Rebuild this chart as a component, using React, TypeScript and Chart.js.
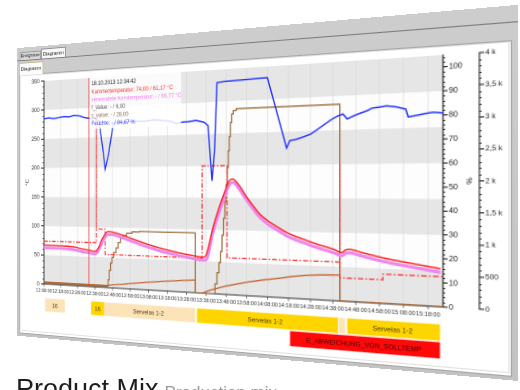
import React, { useEffect, useRef } from "react";
import { Chart, registerables } from "chart.js";

Chart.register(...registerables);

const FONT = "'Liberation Sans', Arial, sans-serif";

// ---- data (time in minutes after 12:08:00) ----
const TIME_MIN = 0;
const TIME_MAX = 196;
const timeTickLabels = [
  "12:08:00", "12:18:00", "12:28:00", "12:38:00", "12:48:00", "12:58:00", "13:08:00",
  "13:18:00", "13:28:00", "13:38:00", "13:48:00", "13:58:00", "14:08:00", "14:18:00",
  "14:28:00", "14:38:00", "14:48:00", "14:58:00", "15:08:00", "15:18:00",
];
const kTickLabels = ["0", "500", "1 k", "1,5 k", "2 k", "2,5 k", "3 k", "3,5 k", "4 k"];
const cursorTime = 26.7;

const feuchte: [number, number][] = [
  [0, 85.5], [3, 85.8], [6, 85.3], [9, 85.7], [12, 86.1], [15, 85.9], [18, 86.6], [21, 86.2],
  [24, 85.2], [27, 84.7], [30, 84.6], [32.5, 83], [34.5, 70], [36, 59], [38, 67], [40.4, 81],
  [43, 82.3], [47, 81.9], [52, 82.5], [58, 82.1], [63, 82.7], [68, 82.2], [72, 81.6], [75, 80.4],
  [77, 81], [81, 81.2], [85, 81.6], [89, 80.6], [91, 79], [92, 66], [93, 53], [94.3, 68],
  [95.5, 99], [100, 99.3], [110, 99.6], [120, 99.9], [129, 67.6], [130.5, 71], [133, 71.3],
  [136, 72.2], [140, 73.6], [144, 76.2], [149, 79.6], [152, 81.2], [154.4, 82], [156.2, 79.8],
  [159, 81], [162, 82.1], [165, 83.1], [167, 84.1], [170, 84.4], [173, 84.8], [177, 84.2],
  [181, 83.1], [182, 79.7], [185, 80.2], [189, 80.9], [192, 81.3], [196, 80.9],
];

const kammerTemp: [number, number][] = [
  [0, 67], [8, 67], [14, 66.5], [19, 65], [23, 62.5], [26.7, 61.2], [30, 59.5], [32, 65],
  [34, 79], [36, 89], [37.5, 93], [40, 92.5], [44, 89.5], [50, 83.5], [58, 75.5], [66, 68.5],
  [74, 63.5], [82, 59], [88.5, 56.5], [90, 60], [93.5, 104], [97, 139], [100, 165], [102, 178],
  [103.5, 179], [105, 175], [107, 167], [110, 152], [113, 139], [116, 127], [120, 116],
  [125, 106], [129, 98.5], [133, 93], [138, 87.5], [143, 82], [147.5, 78], [151, 74.5],
  [153, 71.5], [154, 71], [155.5, 75], [157.5, 76], [162, 72.5], [167, 68.5], [172, 65],
  [180, 60.5], [188, 56.5], [195, 53],
];

const kernTemp: [number, number][] = [
  [0, 62.5], [8, 62.5], [14, 62], [19, 60.5], [23, 58], [26.7, 56.8], [30, 55], [32, 60],
  [34, 73], [36, 84], [37.5, 88], [40, 88], [44, 85], [50, 79], [58, 71], [66, 64], [74, 59],
  [82, 54.5], [88.5, 52], [90, 52.5], [93.5, 96], [97, 131], [100, 158], [102, 172],
  [103.5, 174], [105, 170], [107, 161], [110, 147], [113, 134], [116, 122], [120, 111],
  [125, 101], [129, 93.5], [133, 88], [138, 82.5], [143, 77], [147.5, 73], [151, 69.5],
  [153, 67], [154, 66.5], [155.5, 70], [157.5, 71], [162, 67.5], [167, 63.5], [172, 60],
  [180, 55.5], [188, 51.5], [195, 48],
];

const sollTemp: [number, number][] = [
  [0, 74], [31, 74], [31, 300], [31, 97], [36, 97], [36, 55], [88, 55], [88, 200], [100.5, 200],
  [100.5, 57], [153, 57], [153, 200], [153, 34], [171.5, 34], [171.5, 42], [196, 42],
];

const cValue: [number, number][] = [
  [0, 25], [37, 28], [37.6, 150], [38.3, 330], [39, 470], [39.8, 580], [40.8, 670], [42, 760],
  [43.3, 860], [44.5, 940], [46, 1000], [48, 1045], [51, 1070], [55, 1080], [84.5, 1078],
  [84.5, 0], [93.5, 0], [94.5, 180], [95.5, 380], [96.5, 560], [97.3, 760], [98, 1050],
  [98.7, 1350], [99.4, 1650], [100, 1950], [100.6, 2250], [101.1, 2550], [101.6, 2800],
  [102.2, 3050], [102.8, 3200], [103.6, 3260], [105, 3290], [153, 3290], [153, 0], [196, 0],
];

const fValue: [number, number][] = [
  [0, 42], [37, 45], [45, 78], [55, 125], [65, 165], [75, 200], [84.5, 230], [84.5, 0], [88, 0],
  [92, 60], [100, 150], [110, 235], [118, 290], [126, 335], [131, 370], [138, 405], [145, 423],
  [153, 435], [153, 6], [196, 6],
];

const tooltipLines = [
  "18.10.2013 12:34:42",
  "Kammertemperatur: 74,00 / 61,17 °C",
  "verwendete Kerntemperatur: - / 56,77 °C",
  "f_Value: - / 9,00",
  "c_value: - / 28,00",
  "Feuchte: - / 84,67 %",
];
const tooltipColors = ["#222222", "#ff2a2a", "#ee7aee", "#555555", "#7d6a52", "#2f3cff"];

const rowNames = ["Programm", "Fehler"];
const eventStart = [0.6, 27.9, 35.3, 85.4, 152.5, 156.2, 130.6];
const eventEnd = [12.6, 35.3, 84.4, 152.2, 155.3, 194.8, 194.8];
const eventRow = [0, 0, 0, 0, 0, 0, 1];
const eventText = ["16", "16", "Servelas 1-2", "Servelas 1-2", "", "Servelas 1-2", "E_ABWEICHUNG_VON_SOLLTEMP"];
const eventColor = ["#fde3b8", "#ffd500", "#fde3b8", "#ffd500", "#fde3b8", "#ffd500", "#ff0a0a"];

// ---- layout (flat screen coordinates) ----
const MAIN_LEFT = 4;
const MAIN_TOP = 31;
const MAIN_W = 520;
const MAIN_H = 247;
const EV_TOP = 279;
const EV_H = 32;

const toXY = (arr: [number, number][]) => arr.map(([x, y]) => ({ x, y }));

function homographyMatrix(src: number[][], dst: number[][]): string {
  const A: number[][] = [];
  const b: number[] = [];
  for (let i = 0; i < 4; i++) {
    const [x, y] = src[i];
    const [X, Y] = dst[i];
    A.push([x, y, 1, 0, 0, 0, -x * X, -y * X]);
    b.push(X);
    A.push([0, 0, 0, x, y, 1, -x * Y, -y * Y]);
    b.push(Y);
  }
  const n = 8;
  for (let c = 0; c < n; c++) {
    let p = c;
    for (let r = c + 1; r < n; r++) if (Math.abs(A[r][c]) > Math.abs(A[p][c])) p = r;
    [A[c], A[p]] = [A[p], A[c]];
    [b[c], b[p]] = [b[p], b[c]];
    for (let r = 0; r < n; r++) {
      if (r === c) continue;
      const f = A[r][c] / A[c][c];
      for (let k = c; k < n; k++) A[r][k] -= f * A[c][k];
      b[r] -= f * b[c];
    }
  }
  const h = b.map((v, i) => v / A[i][i]);
  return `matrix3d(${h[0]},${h[3]},0,${h[6]},${h[1]},${h[4]},0,${h[7]},0,0,1,0,${h[2]},${h[5]},0,1)`;
}

const minorSteps: Record<string, number> = { yT: 10, yP: 2, yK: 100 };

const bandsPlugin = {
  id: "bands",
  beforeDraw(chart: any) {
    const { ctx, chartArea: a } = chart;
    const y = chart.scales.yT;
    ctx.save();
    ctx.fillStyle = "#fdfdfd";
    ctx.fillRect(a.left, a.top, a.right - a.left, a.bottom - a.top);
    ctx.fillStyle = "#e6e6e6";
    const ticks = y.ticks;
    for (let i = 0; i < ticks.length - 1; i += 2) {
      const y0 = y.getPixelForValue(ticks[i].value);
      const y1 = y.getPixelForValue(ticks[i + 1].value);
      ctx.fillRect(a.left, y1, a.right - a.left, y0 - y1);
    }
    ctx.restore();
  },
};

const minorTicksPlugin = {
  id: "minorTicks",
  afterDraw(chart: any) {
    const ctx = chart.ctx;
    ctx.save();
    ctx.strokeStyle = "#222";
    ctx.lineWidth = 0.8;
    Object.keys(minorSteps).forEach((id) => {
      const s = chart.scales[id];
      const step = minorSteps[id];
      const major = s.options.ticks.stepSize;
      const n = Math.floor((s.max - s.min) / step + 1e-6);
      for (let i = 0; i <= n; i++) {
        const v = s.min + i * step;
        const r = v / major;
        if (Math.abs(r - Math.round(r)) < 1e-6) continue;
        const py = Math.round(s.getPixelForValue(v)) + 0.5;
        ctx.beginPath();
        if (s.position === "left") {
          ctx.moveTo(s.right - 2, py);
          ctx.lineTo(s.right, py);
        } else {
          ctx.moveTo(s.left, py);
          ctx.lineTo(s.left + 2, py);
        }
        ctx.stroke();
      }
    });
    ctx.restore();
  },
};

const tooltipPlugin = {
  id: "cursorBox",
  afterDatasetsDraw(chart: any) {
    const ctx = chart.ctx;
    const x = chart.scales.x.getPixelForValue(cursorTime);
    const top = chart.chartArea.top;
    ctx.save();
    ctx.fillStyle = "rgba(255,255,255,0.84)";
    ctx.fillRect(x + 0.8, top - 1, 110, 56);
    ctx.font = `6px ${FONT}`;
    ctx.textBaseline = "middle";
    ctx.textAlign = "left";
    tooltipLines.forEach((t, i) => {
      ctx.fillStyle = tooltipColors[i];
      ctx.fillText(t, x + 3, top + 6.5 + i * 8.6);
    });
    ctx.restore();
  },
};

const eventTextPlugin = {
  id: "eventText",
  afterDatasetsDraw(chart: any) {
    const meta = chart.getDatasetMeta(0);
    const ctx = chart.ctx;
    ctx.save();
    ctx.font = `6.5px ${FONT}`;
    ctx.textAlign = "center";
    ctx.textBaseline = "middle";
    meta.data.forEach((el: any, i: number) => {
      const t = eventText[i];
      if (!t) return;
      const p = el.getProps(["x", "base", "y"], true);
      ctx.fillStyle = eventRow[i] === 1 ? "#4a0000" : "#4a3a08";
      ctx.fillText(t, (p.x + p.base) / 2, p.y + 0.5);
    });
    ctx.restore();
  },
};

const lineBase = { pointRadius: 0, pointHoverRadius: 0, fill: false, tension: 0 };

export default function App() {
  const frameRef = useRef<HTMLDivElement>(null);
  const mainRef = useRef<HTMLCanvasElement>(null);
  const evRef = useRef<HTMLCanvasElement>(null);

  useEffect(() => {
    const axisTick = { drawOnChartArea: false, drawTicks: true, tickLength: 4, tickColor: "#222" };
    const main = new Chart(mainRef.current as HTMLCanvasElement, {
      type: "line",
      data: {
        datasets: [
          { ...lineBase, label: "Cursor", data: [{ x: cursorTime, y: 0 }, { x: cursorTime, y: 350 }], yAxisID: "yT", borderColor: "#e8393c", borderWidth: 1 },
          { ...lineBase, label: "Feuchte", data: toXY(feuchte), yAxisID: "yP", borderColor: "#2030ff", borderWidth: 1.4 },
          { ...lineBase, label: "Kammertemperatur", data: toXY(kammerTemp), yAxisID: "yT", borderColor: "#ff1f1f", borderWidth: 1.4, cubicInterpolationMode: "monotone" },
          { ...lineBase, label: "verwendete Kerntemperatur", data: toXY(kernTemp), yAxisID: "yT", borderColor: "#ee86ee", borderWidth: 3, cubicInterpolationMode: "monotone" },
          { ...lineBase, label: "Solltemperatur", data: toXY(sollTemp), yAxisID: "yT", borderColor: "#ff3535", borderWidth: 1.3, borderDash: [5, 2, 1.5, 2] },
          { ...lineBase, label: "c_value", data: toXY(cValue), yAxisID: "yK", borderColor: "#9f6f3f", borderWidth: 1.3, stepped: true },
          { ...lineBase, label: "f_Value", data: toXY(fValue), yAxisID: "yK", borderColor: "#c4662e", borderWidth: 1.3 },
        ] as any,
      },
      options: {
        responsive: false,
        animation: false,
        devicePixelRatio: 2,
        events: [],
        layout: { padding: { top: 8, left: 0, right: 0, bottom: 0 } },
        plugins: { legend: { display: false }, tooltip: { enabled: false } },
        scales: {
          x: {
            type: "linear",
            position: "bottom",
            min: TIME_MIN,
            max: TIME_MAX,
            ticks: {
              stepSize: 10,
              autoSkip: false,
              maxRotation: 0,
              minRotation: 0,
              includeBounds: false,
              padding: 1,
              color: "#333",
              font: { size: 5.5, family: FONT },
              callback: (v: any) => timeTickLabels[Math.round(Number(v) / 10)] ?? "",
            },
            grid: { color: "#d6d6d6", lineWidth: 0.6, drawTicks: true, tickLength: 3, tickColor: "#333" },
            border: { display: true, color: "#333" },
            afterFit: (s: any) => { s.height = 14; },
          },
          yT: {
            type: "linear",
            position: "left",
            min: 0,
            max: 350,
            ticks: { stepSize: 50, padding: 2, color: "#222", font: { size: 6.5, family: FONT } },
            grid: axisTick,
            border: { display: true, color: "#222" },
            title: { display: true, text: "°C", color: "#222", font: { size: 6.5, family: FONT }, padding: { top: 7, bottom: 0 } },
            afterFit: (s: any) => { s.width = 33; },
          },
          yP: {
            type: "linear",
            position: "right",
            weight: 0,
            min: 0,
            max: 105,
            ticks: { stepSize: 10, includeBounds: false, padding: 1, color: "#222", font: { size: 7, family: FONT } },
            grid: axisTick,
            border: { display: true, color: "#222" },
            title: { display: true, text: "%", color: "#222", font: { size: 7, family: FONT }, padding: { top: 5, bottom: 0 } },
            afterFit: (s: any) => { s.width = 31; },
          },
          yK: {
            type: "linear",
            position: "right",
            weight: 1,
            min: 0,
            max: 4000,
            ticks: {
              stepSize: 500,
              padding: 1,
              color: "#222",
              font: { size: 6.5, family: FONT },
              callback: (v: any) => kTickLabels[Math.round(Number(v) / 500)] ?? "",
            },
            grid: axisTick,
            border: { display: true, color: "#222" },
            afterFit: (s: any) => { s.width = 26; },
          },
        },
      } as any,
      plugins: [bandsPlugin, minorTicksPlugin, tooltipPlugin],
    });

    const ca = main.chartArea;
    const ev = new Chart(evRef.current as HTMLCanvasElement, {
      type: "bar",
      data: {
        labels: rowNames,
        datasets: [
          {
            data: eventStart.map((s, i) => ({ x: [s, eventEnd[i]], y: rowNames[eventRow[i]] })),
            backgroundColor: eventColor,
            borderWidth: 0,
            barPercentage: 0.9,
            categoryPercentage: 1,
          },
        ] as any,
      },
      options: {
        indexAxis: "y",
        responsive: false,
        animation: false,
        devicePixelRatio: 2,
        events: [],
        layout: { padding: { left: ca.left, right: MAIN_W - ca.right, top: 0, bottom: 0 } },
        plugins: { legend: { display: false }, tooltip: { enabled: false } },
        scales: {
          x: { type: "linear", min: TIME_MIN, max: TIME_MAX, display: false },
          y: { type: "category", display: false },
        },
      } as any,
      plugins: [eventTextPlugin],
    });

    const src = [
      [MAIN_LEFT + ca.left, MAIN_TOP + ca.top],
      [MAIN_LEFT + ca.right, MAIN_TOP + ca.top],
      [MAIN_LEFT + ca.right, MAIN_TOP + ca.bottom],
      [MAIN_LEFT + ca.left, MAIN_TOP + ca.bottom],
    ];
    const dst = [[44, 81], [443, 55], [443, 307], [44, 284]];
    if (frameRef.current) frameRef.current.style.transform = homographyMatrix(src, dst);

    return () => {
      main.destroy();
      ev.destroy();
    };
  }, []);

  const tabText: React.CSSProperties = { position: "absolute", fontFamily: FONT, color: "#222", textAlign: "center", boxSizing: "border-box", whiteSpace: "nowrap" };

  return (
    <div style={{ position: "fixed", left: 0, top: 0, width: 520, height: 390, overflow: "hidden", background: "#fff" }}>
      <div
        ref={frameRef}
        style={{ position: "absolute", left: 0, top: 0, width: 530, height: 324, background: "linear-gradient(#cdcdcd, #c3c3c3)", transformOrigin: "0 0" }}
      >
        <div style={{ position: "absolute", left: 0, top: 13.5, width: 530, height: 1, background: "#7c7c7c" }} />
        <div style={{ ...tabText, left: 4, top: 5, width: 29, height: 8.5, background: "#d9d9d9", border: "1px solid #9a9a9a", borderBottom: "none", fontSize: 5.5, lineHeight: "7.5px" }}>Ereignisse</div>
        <div style={{ ...tabText, left: 33, top: 3, width: 33, height: 11, background: "#f7f7f7", border: "1px solid #8f8f8f", borderBottom: "none", fontSize: 6, lineHeight: "10px" }}>Diagramm</div>
        <div style={{ position: "absolute", left: 3, top: 29.5, width: 522, height: 291, background: "#fff", border: "1px solid #a6a6a6", boxSizing: "border-box" }} />
        <div style={{ ...tabText, left: 3, top: 17, width: 33, height: 13.5, background: "#fcfcfc", border: "1px solid #c9b98f", borderBottom: "none", fontSize: 6, lineHeight: "12px" }}>Diagramm</div>
        <div style={{ position: "absolute", left: 5, top: 31, width: 518, height: 287, border: "1px solid #e0e0e0", boxSizing: "border-box" }} />
        <canvas ref={mainRef} width={MAIN_W} height={MAIN_H} style={{ position: "absolute", left: MAIN_LEFT, top: MAIN_TOP, width: MAIN_W, height: MAIN_H, display: "block" }} />
        <canvas ref={evRef} width={MAIN_W} height={EV_H} style={{ position: "absolute", left: MAIN_LEFT, top: EV_TOP, width: MAIN_W, height: EV_H, display: "block" }} />
      </div>
      <div style={{ position: "absolute", left: 16, top: 376, fontFamily: FONT, fontSize: 27, lineHeight: 1, color: "#1e1e1e", whiteSpace: "nowrap" }}>
        Product Mix<span style={{ fontSize: 17, color: "#9a9a9a", marginLeft: 6 }}>Production mix</span>
      </div>
    </div>
  );
}
